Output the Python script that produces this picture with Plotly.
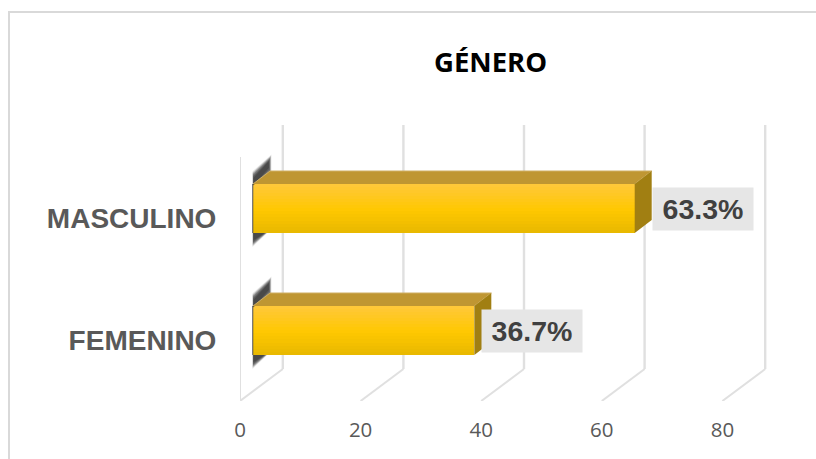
import plotly.graph_objects as go

title = "GÉNERO"
categories = ["FEMENINO", "MASCULINO"]
values = [36.7, 63.3]
value_labels = ["36.7%", "63.3%"]
x_ticks = [0, 20, 40, 60, 80]

W, H = 816, 459
# pixel geometry of the plot
PX_X0, PX_XEND = 240, 770
PX_YTOP, PX_YBOT = 125, 401
SX, SY = 6.03, 122.0
xmax = (PX_XEND - PX_X0) / SX
ytop = 1 + (218 - PX_YTOP) / SY
ybot = -0.5
# 3D wall depth and bar depth, in data units
WALL_DX, WALL_DY = 42.8 / SX, 32 / SY
BAR_BASE = 13 / SX
BAR_DX, BAR_DY = 17 / SX, 13 / SY
BAR_SHIFT = 9.5 / SY
BAR_H = 49 / SY
LABEL_GAP = [7 / SX, 17 / SX]

GRID = "#e0e0e0"


def lerp(a, b, t):
    return tuple(a[i] + (b[i] - a[i]) * t for i in range(3))


def grad_color(t):
    c0, c1, c2 = (255, 200, 60), (255, 200, 0), (232, 184, 0)
    c = lerp(c0, c1, t / 0.55) if t < 0.55 else lerp(c1, c2, (t - 0.55) / 0.45)
    return "rgb(%d,%d,%d)" % c


fig = go.Figure()

# front faces: thin overlaid bands give the vertical gradient
BANDS = 16
for b in range(BANDS):
    t = (b + 0.5) / BANDS
    fig.add_trace(go.Bar(
        orientation="h",
        x=values,
        y=[i + BAR_SHIFT + BAR_H / 2 - t * BAR_H for i in range(len(values))],
        base=BAR_BASE,
        width=BAR_H / BANDS * 1.15,
        marker=dict(color=grad_color(t), line_width=0),
        hoverinfo="skip", showlegend=False,
    ))


def poly(xs, ys, color, line=None):
    fig.add_trace(go.Scatter(
        x=xs, y=ys, mode="lines", fill="toself", fillcolor=color,
        line=dict(width=0 if line is None else 1, color=line or color),
        hoverinfo="skip", showlegend=False,
    ))


for i, v in enumerate(values):
    yc = i + BAR_SHIFT
    top, bot = yc + BAR_H / 2, yc - BAR_H / 2
    x0, x1 = BAR_BASE, BAR_BASE + v
    # soft shadow on the left of the bar
    for grow, alpha in [(0.03, 0.1), (0.022, 0.14), (0.015, 0.18), (0.008, 0.24),
                        (0.0, 0.32), (-0.012, 0.38), (-0.025, 0.45)]:
        gx = grow * 8
        poly([x0 - gx / 3, x0 - gx / 3, x0 + BAR_DX + gx, x0 + BAR_DX + gx],
             [top - 0.01, top + 0.075 + grow, top + BAR_DY + 0.105 + grow, top + BAR_DY - grow],
             "rgba(50,50,50,%.2f)" % alpha)
        poly([x0 - gx / 3, x0 - gx / 3, x0 + BAR_DX * 0.75 + gx],
             [bot, bot - 0.085 - grow, bot],
             "rgba(50,50,50,%.2f)" % alpha)
    poly([x0 - 0.15, x0 - 0.15, x0 + 0.05, x0 + 0.05], [bot, top, top, bot], "rgba(70,70,70,0.8)")
    # top face
    poly([x0, x0 + BAR_DX, x1 + BAR_DX, x1], [top, top + BAR_DY, top + BAR_DY, top], "#bf9632", "#cfae62")
    # side face
    poly([x1, x1 + BAR_DX, x1 + BAR_DX, x1], [top, top + BAR_DY, bot + BAR_DY, bot], "#a17f12")

# walls: front line at zero, floor diagonals, back lines
shapes = []
for t in x_ticks:
    shapes.append(dict(type="line", xref="x", yref="y", layer="below",
                       x0=t + WALL_DX, x1=t + WALL_DX, y0=ybot + WALL_DY, y1=ytop,
                       line=dict(color=GRID, width=2.4)))
    shapes.append(dict(type="line", xref="x", yref="y", layer="below",
                       x0=t, x1=t + WALL_DX, y0=ybot, y1=ybot + WALL_DY,
                       line=dict(color=GRID, width=2)))
shapes.append(dict(type="line", xref="x", yref="y", layer="below",
                   x0=0, x1=0, y0=ybot, y1=1.5, line=dict(color=GRID, width=2)))

# chart border (paper = whole figure because margins are zero)
paper_x = lambda px: px / W
paper_y = lambda py: 1 - py / H
shapes.append(dict(type="line", xref="paper", yref="paper",
                   x0=paper_x(8), x1=paper_x(W), y0=paper_y(12), y1=paper_y(12),
                   line=dict(color="#d9d9d9", width=2)))
shapes.append(dict(type="line", xref="paper", yref="paper",
                   x0=paper_x(9), x1=paper_x(9), y0=paper_y(12), y1=paper_y(H),
                   line=dict(color="#d9d9d9", width=2)))

annotations = [
    dict(xref="x", yref="y", x=BAR_BASE + v + LABEL_GAP[i], y=i + BAR_SHIFT,
         xanchor="left", yanchor="middle", text="<b>%s</b>" % value_labels[i],
         showarrow=False, width=100, height=42, borderpad=0, align="center", valign="middle",
         bgcolor="#e6e6e6",
         font=dict(family="Liberation Sans", size=28.5, color="#404040"))
    for i, v in enumerate(values)
]
annotations.append(dict(xref="paper", yref="paper", x=paper_x(490), y=paper_y(61),
                        xanchor="center", yanchor="middle", text="<b>%s</b>" % title,
                        showarrow=False,
                        font=dict(family="Open Sans", size=27.5, color="black")))

fig.update_layout(
    width=W, height=H, margin=dict(l=0, r=0, t=0, b=0, autoexpand=False),
    paper_bgcolor="white", plot_bgcolor="white",
    barmode="overlay", bargap=0, showlegend=False,
    xaxis=dict(domain=[PX_X0 / W, PX_XEND / W], range=[0, xmax], tickmode="array",
               tickvals=x_ticks, ticktext=[str(t) for t in x_ticks],
               showgrid=False, zeroline=False, showline=False,
               ticks="outside", ticklen=10, tickcolor="rgba(0,0,0,0)",
               tickfont=dict(family="Open Sans", size=20.5, color="#595959")),
    yaxis=dict(domain=[1 - PX_YBOT / H, 1 - PX_YTOP / H], range=[ybot, ytop], tickmode="array",
               tickvals=[0, 1], ticktext=["<b>%s</b>" % c for c in categories],
               showgrid=False, zeroline=False, showline=False,
               ticks="outside", ticklen=17, tickcolor="rgba(0,0,0,0)",
               tickfont=dict(family="Liberation Sans", size=28, color="#595959")),
    shapes=shapes, annotations=annotations,
)
fig.write_html("out.html", config={"displayModeBar": False},
               post_script="document.body.style.margin='0';document.body.style.overflow='hidden';")
